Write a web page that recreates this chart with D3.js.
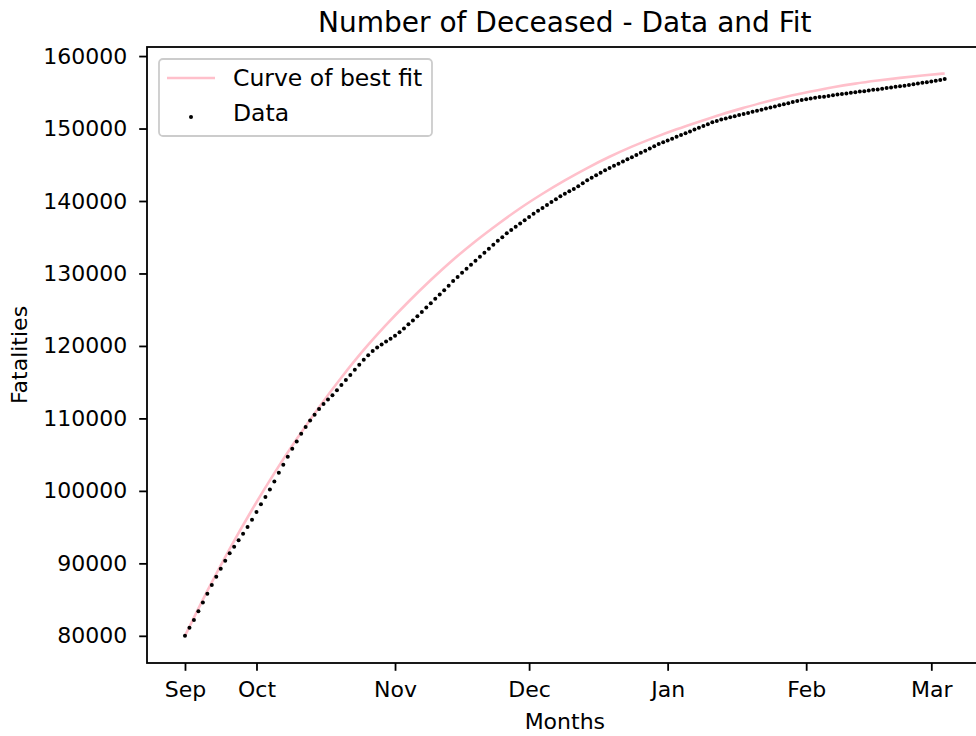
<!DOCTYPE html>
<html>
<head>
  <title>Number of Deceased - Data and Fit</title>
  <script src="https://d3js.org/d3.v7.min.js"></script>
  <style>
    body { margin: 0; background: #fff; }
    svg { display: block; font-family: 'DejaVu Sans', sans-serif; }
  </style>
</head>
<body>
<div id="chart"></div>
<script>
// daily cumulative fatalities, starting at the "Sep" tick (one point per day)
const deaths = [
  80000, 81100, 82200, 83400, 84600, 85800, 87000, 88150, 89250, 90350,
  91400, 92300, 93200, 94100, 95000, 96000, 97100, 98150, 99150, 100200,
  101300, 102500, 103600, 104700, 105800, 106800, 107900, 108800, 109700, 110500,
  111300, 112000, 112600, 113200, 113900, 114600, 115300, 116000, 116700, 117400,
  118100, 118700, 119300, 119800, 120200, 120600, 121000, 121400, 121900, 122400,
  123000, 123500, 124100, 124700, 125300, 125900, 126500, 127100, 127700, 128300,
  128950, 129500, 130100, 130650, 131200, 131750, 132300, 132850, 133400, 133950,
  134500, 135000, 135550, 136000, 136450, 136900, 137350, 137800, 138250, 138650,
  139050, 139450, 139850, 140250, 140650, 141000, 141350, 141650, 142050, 142450,
  142850, 143200, 143550, 143900, 144250, 144550, 144850, 145150, 145450, 145750,
  146050, 146350, 146650, 146950, 147250, 147550, 147850, 148100, 148350, 148600,
  148850, 149100, 149350, 149600, 149850, 150100, 150350, 150600, 150850, 151050,
  151250, 151400, 151550, 151700, 151850, 152000, 152150, 152300, 152450, 152600,
  152750, 152900, 153050, 153200, 153350, 153500, 153650, 153800, 153950, 154050,
  154150, 154250, 154350, 154400, 154500, 154600, 154700, 154750, 154850, 154950,
  155000, 155100, 155150, 155250, 155350, 155400, 155500, 155600, 155650, 155750,
  155850, 155900, 156000, 156100, 156200, 156300, 156400, 156500, 156600, 156700,
  156850
];

// curve of best fit, read every 5 days
const fitDays = [0, 5, 10, 15, 20, 25, 30, 35, 40, 45, 50, 55, 60, 65, 70, 75, 80, 85,
  90, 95, 100, 105, 110, 115, 120, 125, 130, 135, 140, 145, 150, 155, 160, 165, 170];
const fitValues = [80000, 86200, 92000, 97400, 102450, 107150, 111550, 115650, 119450,
  122900, 126100, 129100, 131900, 134450, 136800, 139000, 141000, 142850, 144550,
  146100, 147500, 148750, 149900, 150950, 151950, 152850, 153700, 154450, 155100,
  155700, 156200, 156620, 156990, 157320, 157600];

const tickDays = [0, 16, 47, 77, 108, 139, 167];
const tickLabels = ["Sep", "Oct", "Nov", "Dec", "Jan", "Feb", "Mar"];
const yTicks = [80000, 90000, 100000, 110000, 120000, 130000, 140000, 150000, 160000];

const width = 976, height = 736;
const plotLeft = 147, plotTop = 47, plotBottom = 663;
const pxPerDay = 4.469;
const lastDay = deaths.length - 1;
const pad = lastDay * 0.05;

const svg = d3.select("#chart").append("svg")
  .attr("width", width)
  .attr("height", height);

const x = d3.scaleLinear()
  .domain([-pad, lastDay + pad])
  .range([plotLeft, plotLeft + (lastDay + 2 * pad) * pxPerDay]);

const y = d3.scaleLinear()
  .domain([76250, 161250])
  .range([plotBottom, plotTop]);

const tick = 7.8;

// fit line
const line = d3.line()
  .x((d, i) => x(fitDays[i]))
  .y(d => y(d))
  .curve(d3.curveMonotoneX);

svg.append("path")
  .datum(fitValues)
  .attr("d", line)
  .attr("fill", "none")
  .attr("stroke", "pink")
  .attr("stroke-width", 2.6);

// data points
svg.append("g").selectAll("circle")
  .data(deaths)
  .enter()
  .append("circle")
  .attr("cx", (d, i) => x(i))
  .attr("cy", d => y(d))
  .attr("r", 2)
  .attr("fill", "black");

// axes
const xAxis = svg.append("g")
  .attr("transform", `translate(0,${plotBottom})`)
  .call(d3.axisBottom(x).tickValues(tickDays)
    .tickFormat((d, i) => tickLabels[i])
    .tickSize(tick).tickPadding(10.5).tickSizeOuter(0));

const yAxis = svg.append("g")
  .attr("transform", `translate(${plotLeft},0)`)
  .call(d3.axisLeft(y).tickValues(yTicks)
    .tickFormat(d3.format("d"))
    .tickSize(tick).tickPadding(12).tickSizeOuter(0));

[xAxis, yAxis].forEach(g => {
  g.select(".domain").remove();
  g.selectAll(".tick line").attr("stroke", "black").attr("stroke-width", 1.8);
  g.selectAll(".tick text")
    .attr("fill", "black")
    .style("font-size", "22px")
    .style("font-family", "'DejaVu Sans', sans-serif");
});

// spines
svg.append("rect")
  .attr("x", plotLeft)
  .attr("y", plotTop)
  .attr("width", x.range()[1] - plotLeft)
  .attr("height", plotBottom - plotTop)
  .attr("fill", "none")
  .attr("stroke", "black")
  .attr("stroke-width", 1.8);

const midX = (plotLeft + x.range()[1]) / 2;

svg.append("text")
  .attr("x", midX)
  .attr("y", 32)
  .attr("text-anchor", "middle")
  .style("font-size", "28px")
  .text("Number of Deceased - Data and Fit");

svg.append("text")
  .attr("x", midX)
  .attr("y", 729)
  .attr("text-anchor", "middle")
  .style("font-size", "22px")
  .text("Months");

svg.append("text")
  .attr("transform", `translate(27,${(plotTop + plotBottom) / 2}) rotate(-90)`)
  .attr("text-anchor", "middle")
  .style("font-size", "22px")
  .text("Fatalities");

// legend
const legend = svg.append("g");
legend.append("rect")
  .attr("x", 159).attr("y", 59)
  .attr("width", 273).attr("height", 77)
  .attr("rx", 4)
  .attr("fill", "white")
  .attr("fill-opacity", 0.8)
  .attr("stroke", "#cccccc")
  .attr("stroke-width", 1.8);

legend.append("line")
  .attr("x1", 167).attr("x2", 215)
  .attr("y1", 78).attr("y2", 78)
  .attr("stroke", "pink")
  .attr("stroke-width", 2.6);

legend.append("circle")
  .attr("cx", 191).attr("cy", 117)
  .attr("r", 2)
  .attr("fill", "black");

legend.append("text")
  .attr("x", 233).attr("y", 86)
  .style("font-size", "23.5px")
  .text("Curve of best fit");

legend.append("text")
  .attr("x", 233).attr("y", 121)
  .style("font-size", "23.5px")
  .text("Data");
</script>
</body>
</html>
